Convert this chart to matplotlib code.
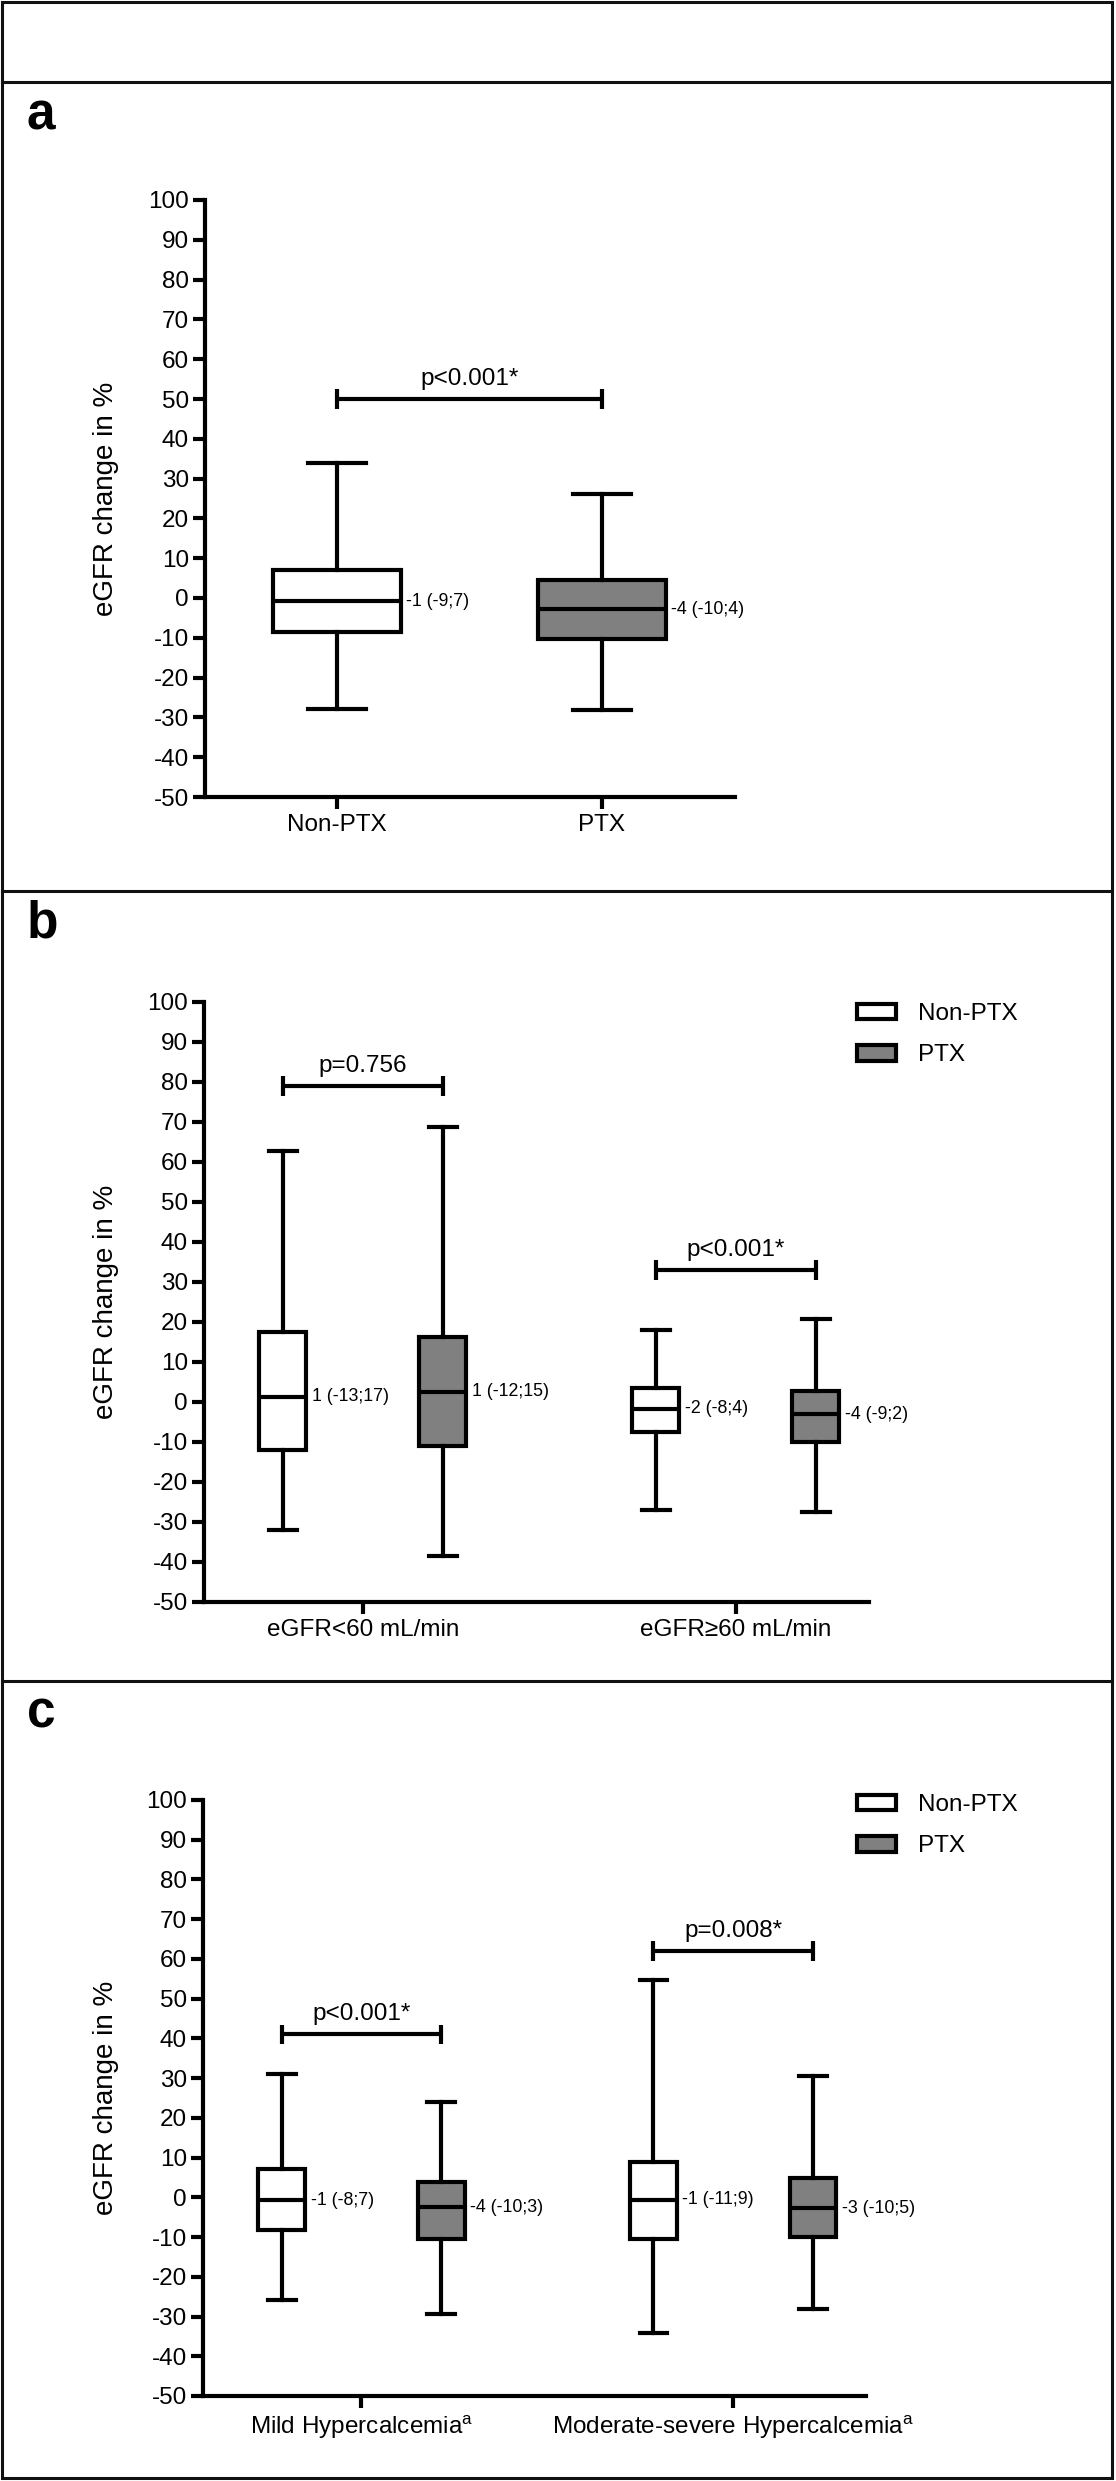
import matplotlib
matplotlib.use('Agg')
import matplotlib.pyplot as plt
from matplotlib.patches import Patch, Rectangle
from matplotlib.lines import Line2D

plt.rcParams['font.family'] = ['Liberation Sans', 'DejaVu Sans']
plt.rcParams['mathtext.fontset'] = 'custom'
plt.rcParams['mathtext.rm'] = 'Liberation Sans'
plt.rcParams['axes.unicode_minus'] = False

# ---- data ----
# panel a: Non-PTX, PTX
a_groups = ['Non-PTX', 'PTX']
a_whislo = [-28, -28.2]
a_q1 = [-8.5, -10.2]
a_med = [-0.8, -2.8]
a_q3 = [7.1, 4.6]
a_whishi = [34, 26.2]
a_labels = ['-1 (-9;7)', '-4 (-10;4)']
a_pvals = ['p<0.001*']
a_brackets = [50]

# panel b: per group Non-PTX, PTX
b_groups = ['eGFR<60 mL/min', 'eGFR≥60 mL/min']
b_whislo = [-32, -38.6, -27.1, -27.6]
b_q1 = [-12, -11, -7.6, -10]
b_med = [1.3, 2.6, -1.7, -3.1]
b_q3 = [17.5, 16.3, 3.6, 2.8]
b_whishi = [62.8, 68.8, 17.9, 20.7]
b_labels = ['1 (-13;17)', '1 (-12;15)', '-2 (-8;4)', '-4 (-9;2)']
b_pvals = ['p=0.756', 'p<0.001*']
b_brackets = [79, 33]

# panel c
c_groups = ['Mild Hypercalcemia$^{\\mathregular{a}}$',
            'Moderate-severe Hypercalcemia$^{\\mathregular{a}}$']
c_whislo = [-25.8, -29.3, -34.2, -28.0]
c_q1 = [-8.3, -10.4, -10.5, -9.9]
c_med = [-0.7, -2.5, -0.6, -2.8]
c_q3 = [7.1, 3.8, 8.9, 4.8]
c_whishi = [31, 24, 54.8, 30.6]
c_labels = ['-1 (-8;7)', '-4 (-10;3)', '-1 (-11;9)', '-3 (-10;5)']
c_pvals = ['p<0.001*', 'p=0.008*']
c_brackets = [41, 62]

W, H = 1116, 2481
LW = 3.0
FS = 17.5
GRAY = '#808080'

fig = plt.figure(figsize=(W / 100, H / 100), dpi=100)


def px_axes(x0, x1, ytop, ybot):
    return fig.add_axes([x0 / W, 1 - ybot / H, (x1 - x0) / W, (ybot - ytop) / H])


def draw_panel(ax, pos, whislo, q1, med, q3, whishi, labels, colors,
               width, capw, xlim, xt, xtl, pairs, pvals, brackets):
    stats = []
    for i in range(len(pos)):
        stats.append(dict(whislo=whislo[i], q1=q1[i], med=med[i],
                          q3=q3[i], whishi=whishi[i]))
    bp = ax.bxp(stats, positions=pos, widths=width, capwidths=capw,
                showfliers=False, patch_artist=True,
                boxprops=dict(linewidth=LW, edgecolor='black'),
                medianprops=dict(color='black', linewidth=LW),
                whiskerprops=dict(color='black', linewidth=LW),
                capprops=dict(color='black', linewidth=LW))
    for box, c in zip(bp['boxes'], colors):
        box.set_facecolor(c)
    for p, m, lab in zip(pos, med, labels):
        ax.annotate(lab, xy=(p + width / 2, m), xytext=(4, 0),
                    textcoords='offset points', va='center', ha='left',
                    fontsize=12.8)
    for (i, j), pv, yb in zip(pairs, pvals, brackets):
        x1, x2 = pos[i], pos[j]
        ax.plot([x1, x2], [yb, yb], color='black', lw=LW, solid_capstyle='butt')
        for x in (x1, x2):
            ax.plot([x, x], [yb - 2.4, yb + 2.4], color='black', lw=LW,
                    solid_capstyle='butt')
        ax.text((x1 + x2) / 2, yb + 3.6, pv, ha='center', va='baseline',
                fontsize=FS)
    ax.set_xlim(*xlim)
    ax.set_ylim(-50, 100)
    ax.set_yticks(range(-50, 101, 10))
    ax.set_xticks(xt)
    ax.set_xticklabels(xtl)
    for s in ('top', 'right'):
        ax.spines[s].set_visible(False)
    for s in ('left', 'bottom'):
        ax.spines[s].set_linewidth(LW)
    ax.tick_params(axis='both', length=8.6, width=LW, labelsize=FS)
    ax.tick_params(axis='x', pad=3.5)
    ax.tick_params(axis='y', pad=3)
    ax.set_ylabel('eGFR change in %', fontsize=20)
    x0 = ax.get_position().x0 * W
    wpx = ax.get_position().width * W
    ax.yaxis.set_label_coords((106 - x0) / wpx, 0.5)
    ax.yaxis.label.set_va('center')


# panel a
ax_a = px_axes(205, 735, 200, 797)
draw_panel(ax_a, [1, 2], a_whislo, a_q1, a_med, a_q3, a_whishi, a_labels,
           ['white', GRAY], 0.48, 0.22, (0.502, 2.502), [1, 2], a_groups,
           [(0, 1)], a_pvals, a_brackets)

off = 0.2145
pos4 = [1 - off, 1 + off, 2 - off, 2 + off]
cols4 = ['white', GRAY, 'white', GRAY]

# panel b
ax_b = px_axes(204, 869, 1002, 1602)
draw_panel(ax_b, pos4, b_whislo, b_q1, b_med, b_q3, b_whishi, b_labels,
           cols4, 0.126, 0.075, (0.574, 2.357), [1, 2], b_groups,
           [(0, 1), (2, 3)], b_pvals, b_brackets)

# panel c
ax_c = px_axes(203, 866, 1800, 2396)
draw_panel(ax_c, pos4, c_whislo, c_q1, c_med, c_q3, c_whishi, c_labels,
           cols4, 0.126, 0.075, (0.574, 2.357), [1, 2], c_groups,
           [(0, 1), (2, 3)], c_pvals, c_brackets)

# legends
for ax, ytop in ((ax_b, 1003), (ax_c, 1794)):
    handles = [Patch(facecolor='white', edgecolor='black', lw=LW, label='Non-PTX'),
               Patch(facecolor=GRAY, edgecolor='black', lw=LW, label='PTX')]
    ax.legend(handles=handles, loc='upper left',
              bbox_to_anchor=(857 / W, 1 - ytop / H), bbox_transform=fig.transFigure,
              frameon=False, fontsize=FS, handlelength=1.6, handleheight=0.6,
              handletextpad=0.9, labelspacing=0.8, borderpad=0, borderaxespad=0)

# panel letters
for lab, yb in (('a', 129), ('b', 938), ('c', 1728)):
    fig.text(27 / W, 1 - yb / H, lab, fontsize=37, fontweight='bold',
             va='baseline', ha='left')

# frame and separators
fig.add_artist(Rectangle((1.5 / W, 3 / H), 1110.5 / W, 1 - 4.5 / H,
                         transform=fig.transFigure, fill=False,
                         edgecolor='#111111', lw=2.2))
for yl in (82, 891, 1681):
    fig.add_artist(Line2D([1.5 / W, 1112 / W], [1 - yl / H, 1 - yl / H],
                          transform=fig.transFigure, color='#111111', lw=2.2))

fig.savefig('out.png', dpi=100, facecolor='white')
